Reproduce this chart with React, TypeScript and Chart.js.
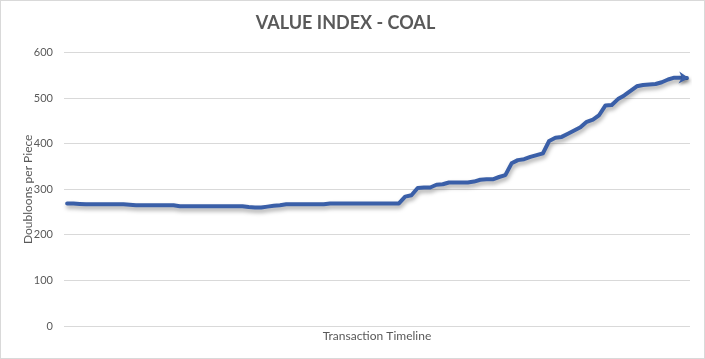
import React, { useEffect, useRef } from "react";
import { Chart, registerables } from "chart.js";

Chart.register(...registerables);

const TITLE = "VALUE INDEX - COAL";
const X_TITLE = "Transaction Timeline";
const Y_TITLE = "Doubloons per Piece";
const Y_MIN = 0;
const Y_MAX = 600;
const Y_STEP = 100;

const PRICES: number[] = [
  269, 269, 268, 267, 267, 267, 267, 267, 267, 267,
  266, 265, 265, 265, 265, 265, 265, 265, 263, 263,
  263, 263, 263, 263, 263, 263, 263, 263, 263, 261,
  260, 260, 262, 264, 265, 267, 267, 267, 267, 267,
  267, 267, 269, 269, 269, 269, 269, 269, 269, 269,
  269, 269, 269, 269, 284, 287, 303, 304, 304, 310,
  311, 315, 315, 315, 315, 317, 321, 322, 322, 327,
  331, 357, 364, 366, 371, 375, 379, 406, 413, 415,
  422, 429, 436, 448, 453, 463, 484, 485, 498, 506,
  516, 526, 529, 530, 531, 535, 541, 545, 545, 544,
];

const LABELS: string[] = PRICES.map((_, i) => String(i + 1));

const LINE_COLOR = "#3a5fa8";
const TEXT_COLOR = "#595959";
const GRID_COLOR = "#d9d9d9";
const FONT = "Lato, 'Open Sans', sans-serif";

const shadowPlugin = {
  id: "lineShadow",
  beforeDatasetsDraw(chart: any) {
    const ctx = chart.ctx;
    ctx.save();
    ctx.shadowColor = "rgba(0,0,0,0.35)";
    ctx.shadowBlur = 4;
    ctx.shadowOffsetX = 1;
    ctx.shadowOffsetY = 3;
  },
  afterDatasetsDraw(chart: any) {
    chart.ctx.restore();
  },
};

const arrowPlugin = {
  id: "arrowEnd",
  afterDatasetsDraw(chart: any) {
    const meta = chart.getDatasetMeta(0);
    const pts = meta.data;
    if (!pts || pts.length < 2) return;
    const a = pts[pts.length - 2];
    const b = pts[pts.length - 1];
    const ang = Math.atan2(b.y - a.y, b.x - a.x);
    const ctx = chart.ctx;
    ctx.save();
    ctx.shadowColor = "rgba(0,0,0,0.3)";
    ctx.shadowBlur = 3;
    ctx.shadowOffsetX = 1;
    ctx.shadowOffsetY = 2;
    ctx.translate(b.x, b.y);
    ctx.rotate(ang);
    ctx.fillStyle = LINE_COLOR;
    ctx.beginPath();
    ctx.moveTo(2, 0);
    ctx.lineTo(-8, -6);
    ctx.lineTo(-5, 0);
    ctx.lineTo(-8, 6);
    ctx.closePath();
    ctx.fill();
    ctx.restore();
  },
};

export default function App() {
  const ref = useRef<HTMLCanvasElement | null>(null);

  useEffect(() => {
    if (!ref.current) return;
    const chart = new Chart(ref.current, {
      type: "line",
      data: {
        labels: LABELS,
        datasets: [
          {
            data: PRICES,
            borderColor: LINE_COLOR,
            borderWidth: 4,
            pointRadius: 0,
            pointHoverRadius: 0,
            tension: 0,
            fill: false,
            borderJoinStyle: "round",
            borderCapStyle: "round",
          },
        ],
      },
      options: {
        animation: false,
        responsive: false,
        maintainAspectRatio: false,
        layout: { padding: { left: 0, right: 14, top: 0, bottom: 0 } },
        plugins: {
          legend: { display: false },
          tooltip: { enabled: false },
          title: {
            display: true,
            text: TITLE,
            color: TEXT_COLOR,
            font: { family: FONT, size: 18, weight: "bold" },
            padding: { top: 11, bottom: 19 },
          },
        },
        scales: {
          x: {
            type: "category",
            offset: true,
            grid: { display: false },
            border: { display: false },
            ticks: { display: false },
            title: {
              display: true,
              text: X_TITLE,
              color: TEXT_COLOR,
              font: { family: FONT, size: 12 },
              padding: { top: 0, bottom: 15 },
            },
            afterFit: (s: any) => {
              s.height = 32;
            },
          },
          y: {
            min: Y_MIN,
            max: Y_MAX,
            ticks: {
              stepSize: Y_STEP,
              color: TEXT_COLOR,
              font: { family: FONT, size: 11 },
              padding: 11,
            },
            grid: { color: GRID_COLOR, drawTicks: false, lineWidth: 1 },
            border: { display: false },
            title: {
              display: true,
              text: Y_TITLE,
              color: TEXT_COLOR,
              font: { family: FONT, size: 12 },
              padding: { top: 20, bottom: 0 },
            },
            afterFit: (s: any) => {
              s.width = 63;
            },
          },
        },
      },
      plugins: [shadowPlugin, arrowPlugin],
    });
    return () => chart.destroy();
  }, []);

  return (
    <div
      style={{
        position: "fixed",
        left: 0,
        top: 0,
        width: 705,
        height: 359,
        boxSizing: "border-box",
        border: "1px solid #d9d9d9",
        background: "#ffffff",
      }}
    >
      <canvas ref={ref} width={703} height={357} style={{ display: "block" }} />
    </div>
  );
}
